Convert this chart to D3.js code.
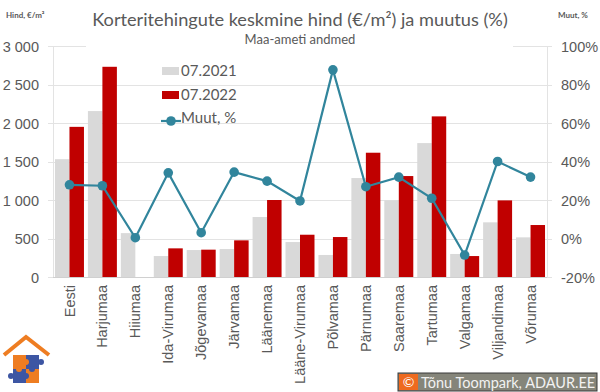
<!DOCTYPE html>
<html>
<head>
<meta charset="utf-8" />
<title>Korteritehingute keskmine hind</title>
<script src="https://d3js.org/d3.v7.min.js"></script>
<style>
    body { margin: 0; background: #ffffff; }
    svg { font-family: Lato, "Open Sans", sans-serif; }
    .tick text { fill: #595959; }
</style>
</head>
<body>
<svg id="chart" width="600" height="392"></svg>
<script>
    // andmed (loetud pildilt)
    var counties = ['Eesti', 'Harjumaa', 'Hiiumaa', 'Ida-Virumaa', 'Jõgevamaa', 'Järvamaa', 'Läänemaa',
        'Lääne-Virumaa', 'Põlvamaa', 'Pärnumaa', 'Saaremaa', 'Tartumaa', 'Valgamaa', 'Viljandimaa', 'Võrumaa'];
    var price2021 = [1530, 2155, 570, 272, 350, 363, 779, 454, 286, 1285, 995, 1739, 299, 710, 515];
    var price2022 = [1950, 2730, null, 372, 355, 476, 1000, 549, 519, 1614, 1311, 2086, 272, 995, 675];
    var change = [27.9, 27.4, 0.4, 34.1, 3.0, 34.5, 29.8, 19.5, 87.6, 26.9, 31.9, 20.9, -8.6, 40.0, 31.9];
    var leftTicks = [0, 500, 1000, 1500, 2000, 2500, 3000];
    var rightTicks = [-20, 0, 20, 40, 60, 80, 100];
    var seriesNames = ['07.2021', '07.2022', 'Muut, %'];

    var gray = '#d9d9d9', red = '#c00000', teal = '#31859c', textCol = '#595959';

    var svg = d3.select('#chart');
    var pLeft = 53, pRight = 547, pTop = 46, pBottom = 277;

    var x = d3.scaleBand().domain(counties).range([pLeft, pRight]).paddingInner(0.12).paddingOuter(0.06);
    var xs = d3.scaleBand().domain([0, 1]).range([0, x.bandwidth()]);
    var y = d3.scaleLinear().domain([0, 3000]).range([pBottom, pTop]);
    var y2 = d3.scaleLinear().domain([-20, 100]).range([pBottom, pTop]);

    // ruudustik
    svg.append('g')
        .selectAll('line')
        .data(leftTicks)
        .enter()
        .append('line')
        .attr('x1', pLeft - 5).attr('x2', pRight + 5)
        .attr('y1', function(d) { return Math.round(y(d)) + 0.5; })
        .attr('y2', function(d) { return Math.round(y(d)) + 0.5; })
        .attr('stroke', '#e3e3e3').attr('stroke-width', 1);

    svg.append('line').attr('x1', pLeft + 0.5).attr('x2', pLeft + 0.5).attr('y1', pTop).attr('y2', pBottom)
        .attr('stroke', '#e3e3e3');
    svg.append('line').attr('x1', pRight + 0.5).attr('x2', pRight + 0.5).attr('y1', pTop).attr('y2', pBottom)
        .attr('stroke', '#e3e3e3');

    // pealkirja taust katab ülemise joone
    svg.append('rect').attr('x', 86).attr('y', 38).attr('width', 427).attr('height', 14).attr('fill', '#ffffff');

    // tulbad
    var groups = svg.append('g')
        .selectAll('g')
        .data(counties)
        .enter()
        .append('g')
        .attr('transform', function(d) { return 'translate(' + x(d) + ',0)'; });

    groups.append('rect')
        .attr('x', xs(0))
        .attr('width', xs.bandwidth())
        .attr('y', function(d, i) { return y(price2021[i]); })
        .attr('height', function(d, i) { return pBottom - y(price2021[i]); })
        .attr('fill', gray);

    groups.filter(function(d, i) { return price2022[i] != null; })
        .append('rect')
        .attr('x', xs(1))
        .attr('width', xs.bandwidth())
        .attr('y', function(d) { return y(price2022[counties.indexOf(d)]); })
        .attr('height', function(d) { return pBottom - y(price2022[counties.indexOf(d)]); })
        .attr('fill', red);

    // telg all
    svg.append('line').attr('x1', pLeft).attr('x2', pRight).attr('y1', pBottom + 0.5).attr('y2', pBottom + 0.5)
        .attr('stroke', '#d0d0d0');

    // muutuse joon
    var line = d3.line()
        .x(function(d, i) { return x(counties[i]) + x.bandwidth() / 2; })
        .y(function(d) { return y2(d); });

    svg.append('path')
        .datum(change)
        .attr('d', line)
        .attr('fill', 'none')
        .attr('stroke', teal)
        .attr('stroke-width', 2.2);

    svg.append('g')
        .selectAll('circle')
        .data(change)
        .enter()
        .append('circle')
        .attr('cx', function(d, i) { return x(counties[i]) + x.bandwidth() / 2; })
        .attr('cy', function(d) { return y2(d); })
        .attr('r', 4.8)
        .attr('fill', teal);

    // teljed
    var yAxis = d3.axisLeft(y).tickValues(leftTicks).tickSize(0).tickPadding(0)
        .tickFormat(function(d) { return d3.format(',')(d).replace(',', ' '); });
    var gl = svg.append('g').attr('transform', 'translate(39,0)').call(yAxis);
    gl.select('.domain').remove();
    gl.selectAll('text').style('font-size', '14.5px').attr('dy', '0.35em');

    var yAxis2 = d3.axisRight(y2).tickValues(rightTicks).tickSize(0).tickPadding(0)
        .tickFormat(function(d) { return d + '%'; });
    var gr = svg.append('g').attr('transform', 'translate(561,0)').call(yAxis2);
    gr.select('.domain').remove();
    gr.selectAll('text').style('font-size', '14.5px').attr('dy', '0.35em');

    var xAxis = d3.axisBottom(x).tickSize(0).tickPadding(0);
    var gx = svg.append('g').attr('transform', 'translate(0,' + pBottom + ')').call(xAxis);
    gx.select('.domain').remove();
    gx.selectAll('text')
        .style('font-size', '14.5px')
        .style('text-anchor', 'end')
        .attr('transform', 'rotate(-90)')
        .attr('x', -8)
        .attr('y', 0)
        .attr('dy', '0.35em');

    // pealkirjad
    svg.append('text').attr('x', 300).attr('y', 26).attr('text-anchor', 'middle')
        .style('font-size', '18.2px').attr('fill', textCol)
        .text('Korteritehingute keskmine hind (€/m²) ja muutus (%)');
    svg.append('text').attr('x', 300).attr('y', 44).attr('text-anchor', 'middle')
        .style('font-size', '13px').attr('fill', textCol)
        .text('Maa-ameti andmed');
    svg.append('text').attr('x', 6).attr('y', 18)
        .style('font-size', '8px').style('font-weight', 'bold').attr('fill', textCol)
        .text('Hind, €/m²');
    svg.append('text').attr('x', 558).attr('y', 18)
        .style('font-size', '8px').style('font-weight', 'bold').attr('fill', textCol)
        .text('Muut, %');

    // legend
    var leg = svg.append('g').attr('transform', 'translate(162,0)');
    leg.append('rect').attr('x', 0).attr('y', 67).attr('width', 17).attr('height', 8).attr('fill', gray);
    leg.append('rect').attr('x', 0).attr('y', 91).attr('width', 17).attr('height', 8).attr('fill', red);
    leg.append('line').attr('x1', -1).attr('x2', 19).attr('y1', 121).attr('y2', 121)
        .attr('stroke', teal).attr('stroke-width', 2.2);
    leg.append('circle').attr('cx', 9).attr('cy', 121).attr('r', 4.8).attr('fill', teal);
    leg.selectAll('text.lg')
        .data(seriesNames)
        .enter()
        .append('text')
        .attr('class', 'lg')
        .attr('x', 19)
        .attr('y', function(d, i) { return 76 + i * 23.5; })
        .style('font-size', '15px')
        .attr('fill', textCol)
        .text(function(d) { return d; });

    // logo
    var logo = svg.append('g').attr('transform', 'translate(2,333)');
    logo.append('path').attr('d', 'M2,22 L24,4 L47,22').attr('fill', 'none')
        .attr('stroke', '#ee7d22').attr('stroke-width', 4);
    logo.append('rect').attr('x', 11).attr('y', 22).attr('width', 13).attr('height', 14).attr('fill', '#ee7d22');
    logo.append('rect').attr('x', 24).attr('y', 22).attr('width', 13).attr('height', 14).attr('fill', '#3d56a3');
    logo.append('rect').attr('x', 11).attr('y', 36).attr('width', 13).attr('height', 14).attr('fill', '#3d56a3');
    logo.append('rect').attr('x', 24).attr('y', 36).attr('width', 13).attr('height', 14).attr('fill', '#ee7d22');
    logo.append('circle').attr('cx', 24).attr('cy', 29).attr('r', 3).attr('fill', '#ee7d22');
    logo.append('circle').attr('cx', 17).attr('cy', 36).attr('r', 3).attr('fill', '#ee7d22');
    logo.append('circle').attr('cx', 30).attr('cy', 36).attr('r', 3).attr('fill', '#3d56a3');
    logo.append('circle').attr('cx', 24).attr('cy', 43).attr('r', 3).attr('fill', '#3d56a3');
    logo.append('circle').attr('cx', 9).attr('cy', 43).attr('r', 3).attr('fill', '#3d56a3');
    logo.append('circle').attr('cx', 39).attr('cy', 29).attr('r', 3).attr('fill', '#3d56a3');

    // autoriõigus
    var cp = svg.append('g').attr('transform', 'translate(398,373)');
    cp.append('rect').attr('x', 0).attr('y', 0).attr('width', 199).attr('height', 18)
        .attr('fill', '#85857a').attr('stroke', '#3a3a3a').attr('stroke-width', 1);
    cp.append('rect').attr('x', 1).attr('y', 1).attr('width', 19).attr('height', 16).attr('fill', '#ee6a1f');
    cp.append('text').attr('x', 10.5).attr('y', 14).attr('text-anchor', 'middle')
        .style('font-size', '14px').attr('fill', '#ffffff').text('©');
    cp.append('text').attr('x', 23).attr('y', 14.5)
        .style('font-size', '14.5px').attr('fill', '#f2f2f2').text('Tõnu Toompark, ADAUR.EE');
</script>
</body>
</html>
